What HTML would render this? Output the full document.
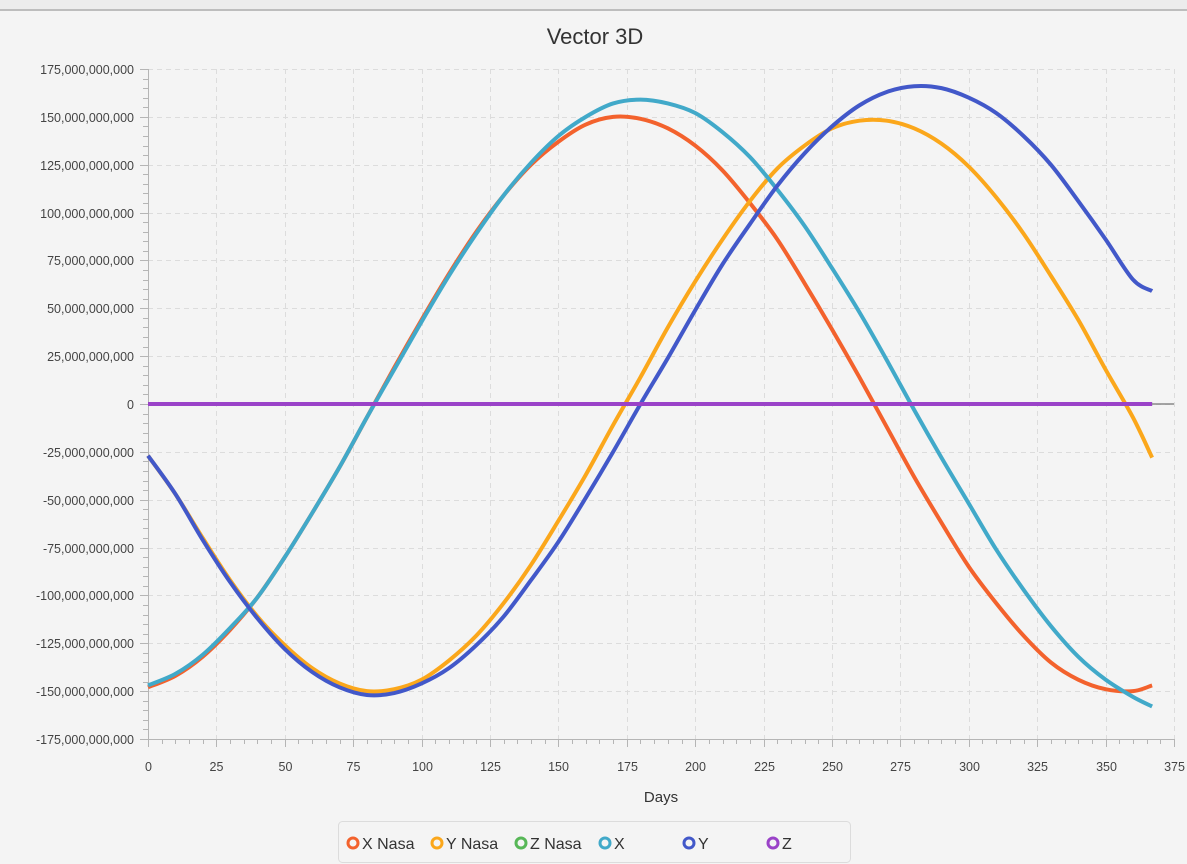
<!DOCTYPE html>
<html><head><meta charset="utf-8"><style>
body{margin:0;background:#f4f4f4;font-family:"Liberation Sans",sans-serif;}
#top{position:absolute;left:0;top:0;width:1187px;height:9px;background:#ececec;border-bottom:2px solid #bdbdbd;}
</style></head><body>
<div id="top"></div>
<svg id="chart" width="1187" height="864" style="position:absolute;left:0;top:0">
<text x="595" y="44" font-size="22" text-anchor="middle" fill="#333">Vector 3D</text>
<text x="661" y="802" font-size="15" text-anchor="middle" fill="#333">Days</text>
<g id="grid"></g><g id="axes"></g><g id="series"></g>
<g>
<rect x="338.5" y="821.5" width="512" height="41" rx="4" fill="#f4f4f4" stroke="#dcdcdc"/>
<g id="legend"></g></g>
</svg>
<script>
const days=[0,10,20,30,40,50,60,70,80,90,100,110,120,130,140,150,160,170,180,190,200,210,220,230,240,250,260,270,280,290,300,310,320,330,340,350,360,367];
const xNasa=[-148,-142,-132,-118,-101,-80,-57,-33,-7,19,44,68,90,109,125,137,146,150,149,144,135,122,105,86,63,39,14,-12,-38,-62,-85,-104,-121,-135,-144,-149,-150,-147];
const yNasa=[-27,-47,-70,-92,-111,-126,-138,-146,-150,-149,-144,-134,-121,-104,-84,-61,-37,-11,14,40,64,86,106,123,135,144,148,148,144,136,124,108,89,67,44,18,-7,-28];
const zNasa=days.map(()=>0);
const xCalc=[-147,-141,-131,-117,-101,-80,-57,-33,-7,18,43,67,89,109,126,140,150,157,159,157,152,142,129,112,93,71,48,23,-3,-28,-52,-76,-97,-116,-132,-144,-153,-158];
const yCalc=[-27,-47,-71,-93,-112,-128,-140,-148,-152,-151,-146,-138,-126,-111,-92,-72,-49,-25,0,24,49,73,94,114,131,145,156,163,166,165,160,152,140,125,106,86,65,59];
const zCalc=days.map(()=>0);
const seriesNames=["X Nasa","Y Nasa","Z Nasa","X","Y","Z"];
const seriesColors=["#f3622d","#fba71b","#57b757","#41a9c9","#4258c9","#9a42c8"];
const seriesData=[xNasa,yNasa,zNasa,xCalc,yCalc,zCalc];
const xTicks=[0,25,50,75,100,125,150,175,200,225,250,275,300,325,350,375];
const yTicks=[175,150,125,100,75,50,25,0,-25,-50,-75,-100,-125,-150,-175];
const NS="http://www.w3.org/2000/svg";
const X0=148,X1=1174,Y0=69,Y1=739;
const sx=d=>X0+(d/375)*(X1-X0);
const sy=v=>Y0+(175-v)/350*(Y1-Y0);
function mk(tag,attrs,parent){const e=document.createElementNS(NS,tag);for(const k in attrs)e.setAttribute(k,attrs[k]);parent.appendChild(e);return e;}
const grid=document.getElementById('grid'),axes=document.getElementById('axes'),ser=document.getElementById('series'),leg=document.getElementById('legend');
const fmt=v=>v===0?"0":(v<0?"-":"")+Math.abs(v)+",000,000,000";
xTicks.forEach(t=>{const x=Math.round(sx(t))+0.5;
 if(t>0){const g=mk('line',{x1:x,x2:x,y1:Y0,y2:Y1,stroke:'#dcdcdc','stroke-dasharray':'5,4'},grid);
 }
 mk('line',{x1:x,x2:x,y1:Y1,y2:Y1+8,stroke:'#b5b5b5'},axes);
 const tx=mk('text',{x:x,y:Y1+32,'font-size':12.5,'text-anchor':'middle',fill:'#444'},axes);tx.textContent=t;
 
});
for(let d=5;d<375;d+=5){if(d%25){const x=Math.round(sx(d))+0.5;mk('line',{x1:x,x2:x,y1:Y1,y2:Y1+5,stroke:'#b5b5b5'},axes);}}
yTicks.forEach(t=>{const y=Math.round(sy(t))+0.5;
 if(t!==-175){const g=mk('line',{x1:X0,x2:X1,y1:y,y2:y,stroke:'#dcdcdc','stroke-dasharray':'5,4'},grid);
 }
 mk('line',{x1:X0-8,x2:X0,y1:y,y2:y,stroke:'#b5b5b5'},axes);
 const tx=mk('text',{x:X0-14,y:y+4.5,'font-size':12.5,'text-anchor':'end',fill:'#444'},axes);tx.textContent=fmt(t);
 
});
for(let v=-175;v<175;v+=5){if(v%25){const y=Math.round(sy(v))+0.5;mk('line',{x1:X0-5,x2:X0,y1:y,y2:y,stroke:'#b5b5b5'},axes);}}
mk('line',{x1:X0+0.5,x2:X0+0.5,y1:Y0,y2:Y1,stroke:'#b5b5b5'},axes);
mk('line',{x1:X0,x2:X1,y1:Y1+0.5,y2:Y1+0.5,stroke:'#b5b5b5'},axes);
mk('line',{x1:X0,x2:X1,y1:sy(0),y2:sy(0),stroke:'#888','stroke-width':1.5},axes);
function path(vals){const p=days.map((d,i)=>[sx(d),sy(vals[i])]);let s=`M${p[0][0]},${p[0][1]}`;
 for(let i=0;i<p.length-1;i++){const a=p[i-1]||p[i],b=p[i],c=p[i+1],d=p[i+2]||c;
 s+=` C${b[0]+(c[0]-a[0])/6},${b[1]+(c[1]-a[1])/6} ${c[0]-(d[0]-b[0])/6},${c[1]-(d[1]-b[1])/6} ${c[0]},${c[1]}`;}return s;}
seriesData.forEach((vals,i)=>{
 const el=mk('path',{d:path(vals),fill:'none',stroke:seriesColors[i],'stroke-width':4,'stroke-linejoin':'round'},ser);
 
 
});
const legX=[353,437,521,605,689,773];
seriesNames.forEach((n,i)=>{
 const g=mk('g',{},leg);
 
 
 mk('circle',{cx:legX[i],cy:843,r:5,fill:'none',stroke:seriesColors[i],'stroke-width':3},g);
 const t=mk('text',{x:legX[i]+9,y:849,'font-size':16,fill:'#333'},g);t.textContent=n;
});
</script>
</body></html>
